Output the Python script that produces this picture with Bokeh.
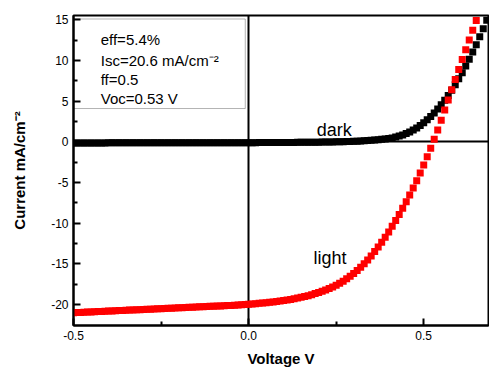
from bokeh.plotting import figure
from bokeh.models import Range1d, FixedTicker, BoxAnnotation
from bokeh.embed import file_html
from bokeh.resources import INLINE
from bokeh.core.properties import value

# ---- data ----
voltage = [
    -0.50, -0.49, -0.48, -0.47, -0.46, -0.45, -0.44, -0.43, -0.42, -0.41,
    -0.40, -0.39, -0.38, -0.37, -0.36, -0.35, -0.34, -0.33, -0.32, -0.31,
    -0.30, -0.29, -0.28, -0.27, -0.26, -0.25, -0.24, -0.23, -0.22, -0.21,
    -0.20, -0.19, -0.18, -0.17, -0.16, -0.15, -0.14, -0.13, -0.12, -0.11,
    -0.10, -0.09, -0.08, -0.07, -0.06, -0.05, -0.04, -0.03, -0.02, -0.01,
    0.00, 0.01, 0.02, 0.03, 0.04, 0.05, 0.06, 0.07, 0.08, 0.09,
    0.10, 0.11, 0.12, 0.13, 0.14, 0.15, 0.16, 0.17, 0.18, 0.19,
    0.20, 0.21, 0.22, 0.23, 0.24, 0.25, 0.26, 0.27, 0.28, 0.29,
    0.30, 0.31, 0.32, 0.33, 0.34, 0.35, 0.36, 0.37, 0.38, 0.39,
    0.40, 0.41, 0.42, 0.43, 0.44, 0.45, 0.46, 0.47, 0.48, 0.49,
    0.50, 0.51, 0.52, 0.53, 0.54, 0.55, 0.56, 0.57, 0.58, 0.59,
    0.60, 0.61, 0.62, 0.63, 0.64, 0.65, 0.66, 0.67, 0.68, 0.69,
]

current_light = [
    -21.00, -20.98, -20.96, -20.94, -20.92, -20.90, -20.88, -20.86, -20.84, -20.82,
    -20.80, -20.78, -20.76, -20.74, -20.72, -20.70, -20.68, -20.66, -20.64, -20.62,
    -20.60, -20.58, -20.56, -20.54, -20.52, -20.50, -20.48, -20.46, -20.44, -20.42,
    -20.40, -20.38, -20.36, -20.34, -20.32, -20.30, -20.28, -20.26, -20.24, -20.22,
    -20.20, -20.18, -20.16, -20.14, -20.12, -20.10, -20.07, -20.04, -20.01, -19.98,
    -19.95, -19.92, -19.89, -19.85, -19.81, -19.77, -19.72, -19.67, -19.62, -19.56,
    -19.50, -19.43, -19.36, -19.28, -19.20, -19.11, -19.01, -18.90, -18.78, -18.65,
    -18.51, -18.36, -18.20, -18.03, -17.84, -17.62, -17.38, -17.12, -16.84, -16.53,
    -16.19, -15.82, -15.42, -14.99, -14.52, -14.02, -13.49, -12.93, -12.34, -11.72,
    -11.07, -10.39, -9.68, -8.94, -8.17, -7.37, -6.54, -5.68, -4.78, -3.84,
    -2.86, -1.84, -0.78, 0.32, 1.46, 2.64, 3.90, 5.15, 6.40, 7.65,
    8.90, 10.10, 11.30, 12.50, 13.70, 14.90, 16.10, 17.30, 18.50, 19.70,
]

current_dark = [
    -0.14, -0.14, -0.14, -0.14, -0.14, -0.14, -0.14, -0.14, -0.14, -0.14,
    -0.13, -0.13, -0.13, -0.13, -0.13, -0.13, -0.13, -0.13, -0.13, -0.13,
    -0.12, -0.12, -0.12, -0.12, -0.12, -0.12, -0.12, -0.12, -0.12, -0.12,
    -0.11, -0.11, -0.11, -0.11, -0.11, -0.11, -0.11, -0.11, -0.11, -0.11,
    -0.10, -0.10, -0.10, -0.10, -0.10, -0.10, -0.10, -0.10, -0.10, -0.10,
    -0.10, -0.10, -0.10, -0.09, -0.09, -0.09, -0.09, -0.08, -0.08, -0.08,
    -0.08, -0.07, -0.07, -0.07, -0.06, -0.06, -0.06, -0.05, -0.05, -0.04,
    -0.04, -0.03, -0.03, -0.02, -0.01, 0.00, 0.01, 0.02, 0.03, 0.05,
    0.06, 0.08, 0.10, 0.12, 0.15, 0.18, 0.21, 0.25, 0.30, 0.35,
    0.40, 0.48, 0.58, 0.70, 0.85, 1.02, 1.22, 1.45, 1.71, 2.00,
    2.33, 2.70, 3.10, 3.54, 4.02, 4.54, 5.10, 5.70, 6.34, 7.02,
    7.74, 8.50, 9.30, 10.14, 11.02, 11.94, 12.90, 13.90, 14.94, 16.02,
]

x_ticks = [-0.5, 0.0, 0.5]
x_tick_labels = ["-0.5", "0.0", "0.5"]
y_ticks = [-20, -15, -10, -5, 0, 5, 10, 15]
y_tick_labels = ["-20", "-15", "-10", "-5", "0", "5", "10", "15"]

info_lines = ["eff=5.4%", "Isc=20.6 mA/cm\u207b\u00b2", "ff=0.5", "Voc=0.53 V"]
curve_names = ["dark", "light"]

FONT = "Liberation Sans"

p = figure(
    width=489, height=369,
    output_backend="svg", toolbar_location=None,
    x_range=Range1d(-0.5, 0.685), y_range=Range1d(-22.57, 15.52),
    min_border_left=73, min_border_right=1, min_border_top=15, min_border_bottom=43,
    background_fill_color="white", border_fill_color="white",
)
p.xgrid.visible = False
p.ygrid.visible = False
p.outline_line_color = "black"
p.outline_line_width = 2

# axes
for ax in (p.xaxis[0], p.yaxis[0]):
    ax.axis_line_width = 2
    ax.axis_line_color = "black"
    ax.major_tick_in = 7
    ax.major_tick_out = 0
    ax.minor_tick_in = 4
    ax.minor_tick_out = 0
    ax.major_tick_line_width = 2
    ax.minor_tick_line_width = 2
    ax.major_tick_line_color = "black"
    ax.minor_tick_line_color = "black"
    ax.major_label_text_font = FONT
    ax.major_label_text_font_size = "12px"
    ax.major_label_text_color = "black"
    ax.axis_label_text_font = FONT
    ax.axis_label_text_font_size = "15px"
    ax.axis_label_text_font_style = "bold"
    ax.axis_label_text_color = "black"

p.xaxis.ticker = FixedTicker(ticks=x_ticks, minor_ticks=[-0.25, 0.25])
p.xaxis.major_label_overrides = dict(zip(x_ticks, x_tick_labels))
p.yaxis.ticker = FixedTicker(ticks=y_ticks, minor_ticks=[-17.5, -12.5, -7.5, -2.5, 2.5, 7.5, 12.5])
p.yaxis.major_label_overrides = dict(zip(y_ticks, y_tick_labels))
p.xaxis.axis_label = "Voltage V"
p.yaxis.axis_label = "Current mA/cm\u207b\u00b2"
p.xaxis.major_label_standoff = 5
p.xaxis.axis_label_standoff = 7
p.yaxis.major_label_standoff = 5
p.yaxis.axis_label_standoff = 20

# zero lines
p.hspan(y=[0], line_color="black", line_width=2)
p.vspan(x=[0], line_color="black", line_width=2)

# curves
p.scatter(voltage, current_dark, marker="square", size=7, fill_color="black", line_color=None)
p.scatter(voltage, current_light, marker="square", size=7, fill_color="red", line_color=None)

# info box
box = BoxAnnotation(left=-0.5, right=-0.0095, bottom=4.09, top=15.09,
                    fill_alpha=0, line_color="black", line_width=1)
p.add_layout(box)
p.text(x=[-0.4223] * 4, y=[12.58, 10.0, 7.68, 5.35], text=info_lines,
       text_font=value(FONT), text_font_size="15px", text_color="black",
       text_baseline="alphabetic", text_align="left")

# curve names
p.text(x=[0.1946, 0.185], y=[1.43, -14.28], text=curve_names,
       text_font=value(FONT), text_font_size="18px", text_color="black",
       text_baseline="alphabetic", text_align="left")

open("out.html", "w").write(file_html(p, INLINE))
